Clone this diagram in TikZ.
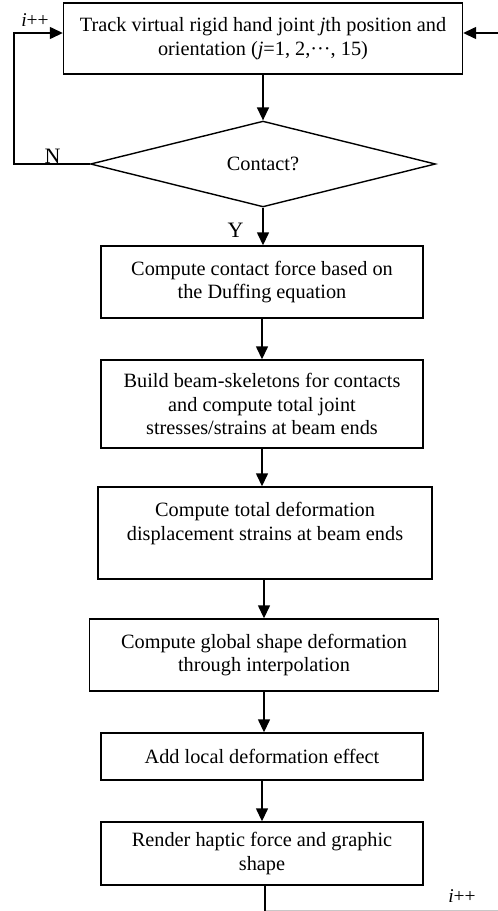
\documentclass[tikz,border=0pt]{standalone}
\usepackage{fontspec}
\setmainfont{Liberation Serif}
\usetikzlibrary{shapes.geometric,arrows.meta}
\begin{document}
\begin{tikzpicture}[x=1pt,y=-1pt,
  box/.style={draw,line width=1.4pt,align=center,inner sep=0pt,font=\fontsize{20.3}{23.5}\selectfont},
  dia/.style={draw,diamond,line width=1.4pt,inner sep=0pt,font=\fontsize{20.3}{23.5}\selectfont},
  arr/.style={line width=1.4pt,-{Triangle[length=13pt,width=12pt]}},
  ln/.style={line width=1.4pt},
  lab/.style={font=\fontsize{22}{22}\selectfont,inner sep=0pt},
  ipp/.style={font=\fontsize{19.5}{19.5}\selectfont,inner sep=0pt}]
\useasboundingbox (0,0) rectangle (498,911);

\node[box,minimum width=399pt,minimum height=71pt] (b1) at (263,38.5)
  {Track virtual rigid hand joint \textit{j}th position and\\orientation (\textit{j}=1, 2,\textperiodcentered\textperiodcentered\textperiodcentered, 15)};
\node[dia,minimum width=345pt,minimum height=85pt] (d) at (263,164) {Contact?};
\node[box,minimum width=322pt,minimum height=72pt] (b2) at (262,282)
  {Compute contact force based on\\the Duffing equation};
\node[box,minimum width=322pt,minimum height=88pt] (b3) at (262,404)
  {Build beam-skeletons for contacts\\and compute total joint\\stresses/strains at beam ends};
\node[box,minimum width=334pt,minimum height=92pt] (b4) at (265,533)
  {Compute total deformation\\displacement strains at beam ends\\\mbox{}};
\node[box,minimum width=349pt,minimum height=72pt] (b5) at (264,655)
  {Compute global shape deformation\\through interpolation};
\node[box,minimum width=322pt,minimum height=47pt] (b6) at (262,756.5)
  {Add local deformation effect};
\node[box,minimum width=322pt,minimum height=63pt] (b7) at (262,853.5)
  {Render haptic force and graphic\\shape};

\draw[arr] (b1.south) -- (b1.south |- d.north);
\draw[arr] (d.south) -- (d.south |- b2.north);
\draw[arr] (b2.south) -- (b2.south |- b3.north);
\draw[arr] (b3.south) -- (b3.south |- b4.north);
\draw[arr] ([xshift=-1pt]b4.south) -- ([xshift=-1pt]b4.south |- b5.north);
\draw[arr] (b5.south) -- (b5.south |- b6.north);
\draw[arr] (b6.south) -- (b6.south |- b7.north);

\coordinate (lb) at (14,164);
\coordinate (lt) at (14,33);
\draw[arr] (d.west) -- (lb) -- (lt) -- (b1.west |- lt);
\coordinate (rt) at (498,33);
\draw[arr] (rt) -- (b1.east |- rt);

\coordinate (bc) at (265,911);
\coordinate (bcr) at (265.7,910.3);
\coordinate (br) at (498,910.3);
\draw[ln] ([xshift=3pt]b7.south) -- (bc);
\draw[line width=0.9pt,black!22] (bcr) -- (br);

\node[lab,anchor=base] (n) at (52.5,163.5) {N};
\node[lab,anchor=base] (y) at (235.5,237) {Y};
\node[ipp,anchor=base] (i1) at (35,26) {\textit{i}++};
\node[ipp,anchor=base] (i2) at (462,902) {\textit{i}++};
\end{tikzpicture}
\end{document}
